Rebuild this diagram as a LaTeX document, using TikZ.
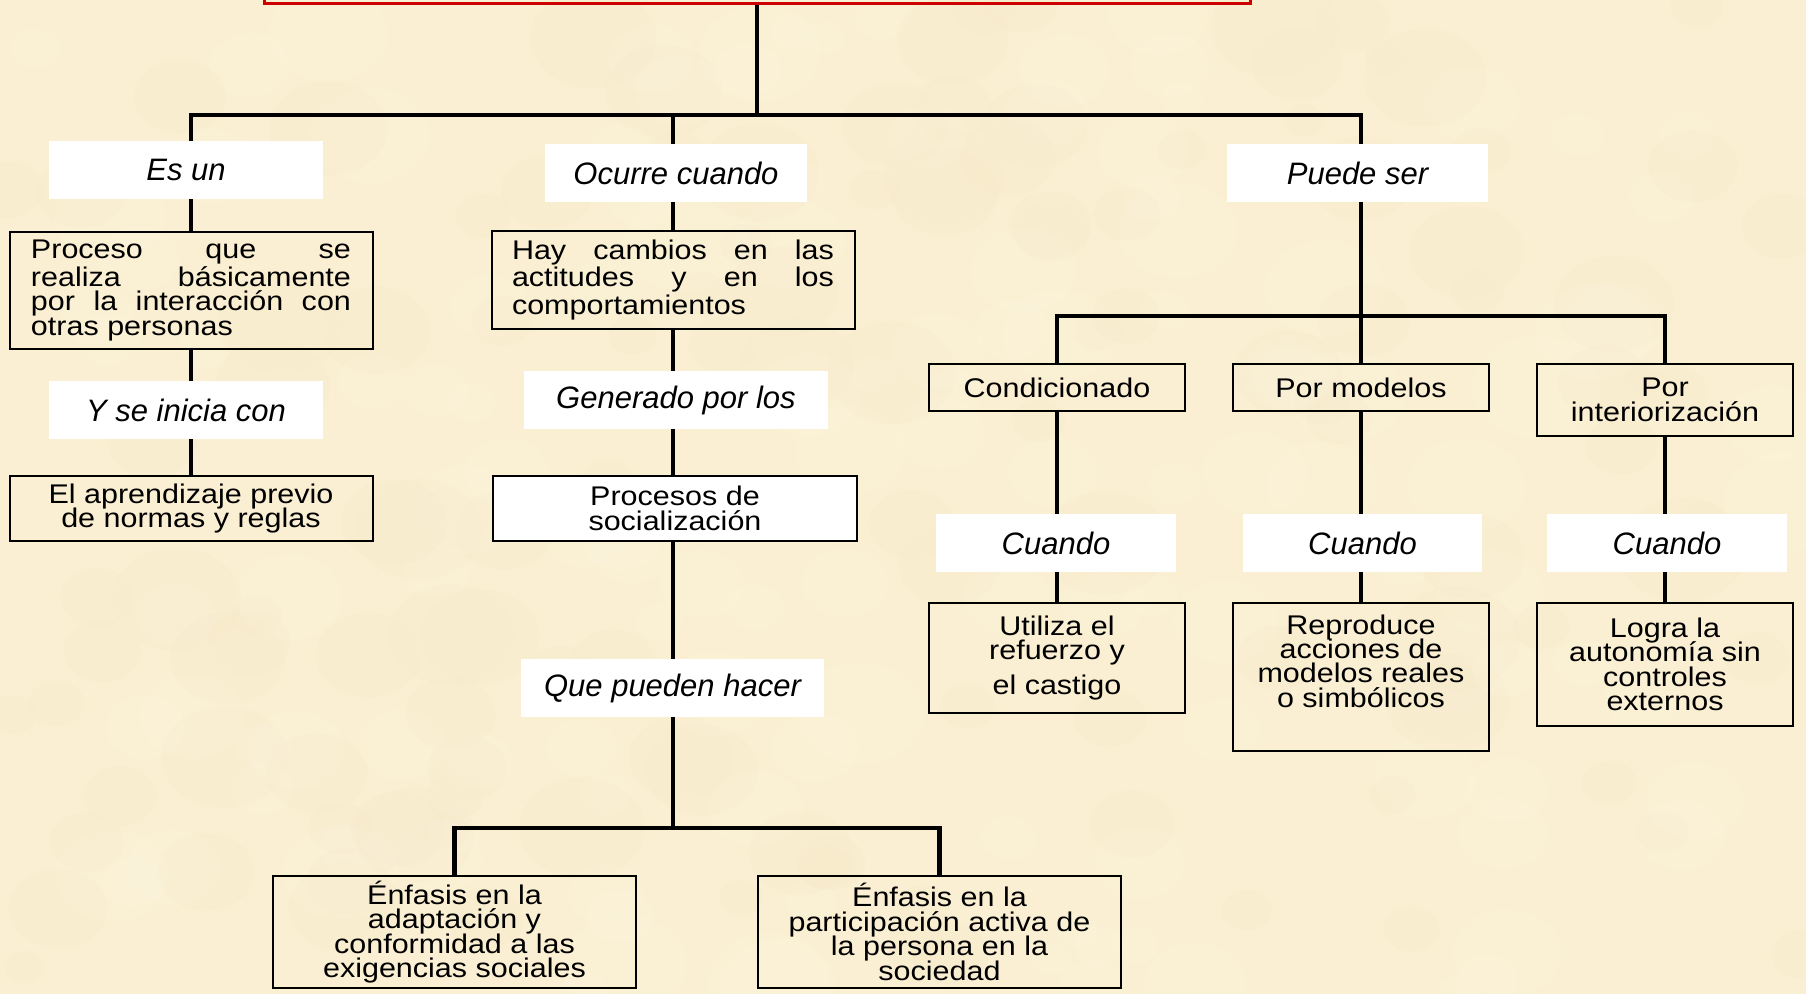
\documentclass[tikz,border=0pt]{standalone}
\usepackage{fontspec}
\setmainfont{Liberation Sans}
\newfontfamily\boxfont{Liberation Sans}[FakeStretch=1.13]
\usetikzlibrary{backgrounds}
\definecolor{bgc}{RGB}{250,239,210}
\definecolor{bglight}{RGB}{255,248,228}
\definecolor{bgdark}{RGB}{236,218,176}
\definecolor{titred}{RGB}{204,0,0}
\setlength{\lineskiplimit}{-100pt}
\begin{document}
\begin{tikzpicture}[x=0.5pt,y=-0.5pt,
  bx/.style={draw=black, line width=1pt, inner sep=0pt, outer sep=0pt,
    font=\boxfont\fontsize{13.5}{12.2}\selectfont, align=center},
  btxt/.style={inner sep=0pt, font=\boxfont\fontsize{13.5}{12.2}\selectfont, align=center},
  lbl/.style={fill=white, inner sep=0pt, outer sep=0pt,
    font=\fontsize{15.5}{18}\selectfont\itshape},
  conn/.style={line width=2.4pt, draw=black, line join=miter}]
\useasboundingbox (0,0) rectangle (1806,994);

% title box (cut off at top)
\node[draw=titred, line width=1.5pt, minimum width=493pt, minimum height=17pt, inner sep=0pt, outer sep=0pt] (title) at (757,-13) {};

% left column
\node[lbl, minimum width=137pt, minimum height=29pt] (esun) at (186,170) {Es un};
\node[bx, minimum width=181.5pt, minimum height=58.5pt, text width=160pt, align=justify] (proc) at (191,290.5)
  {\parindent0pt Proceso que se\linebreak realiza básicamente\linebreak por la interacción con\linebreak otras personas};
\node[lbl, minimum width=137pt, minimum height=29pt] (yse) at (186,410) {Y se inicia con};
\node[bx, minimum width=181.5pt, minimum height=32.5pt] (aprend) at (191,508.5)
  {El aprendizaje previo\\de normas y reglas};

% middle column
\node[lbl, minimum width=131pt, minimum height=29pt] (ocurre) at (676,173) {Ocurre cuando};
\node[bx, minimum width=181.5pt, minimum height=49pt, text width=161pt, align=justify] (hay) at (673,280)
  {\parindent0pt Hay cambios en las\linebreak actitudes y en los\linebreak comportamientos};
\node[lbl, minimum width=152pt, minimum height=29pt] (gen) at (676,400) {Generado por los};
\node[bx, fill=white, minimum width=182pt, minimum height=32.5pt] (procs) at (675,508.5)
  {Procesos de\\socialización};
\node[lbl, minimum width=151.5pt, minimum height=29pt] (que) at (672.5,688) {Que pueden hacer};
\node[bx, minimum width=181.5pt, minimum height=56pt] (enf1) at (454.5,932)
  {Énfasis en la\\adaptación y\\conformidad a las\\exigencias sociales};
\node[bx, minimum width=181.5pt, minimum height=56pt] (enf2) at (939.5,932)
  {Énfasis en la\\participación activa de\\la persona en la\\sociedad};

% right column
\node[lbl, minimum width=130.5pt, minimum height=29pt] (puede) at (1357.5,173) {Puede ser};
\node[bx, minimum width=128pt, minimum height=23.5pt] (cond) at (1057,387.5) {Condicionado};
\node[bx, minimum width=128pt, minimum height=23.5pt] (mod) at (1361,387.5) {Por modelos};
\node[bx, minimum width=128pt, minimum height=36pt] (inter) at (1665,400) {Por\\interiorización};
\node[lbl, minimum width=120pt, minimum height=29pt] (c1) at (1056,543) {Cuando};
\node[lbl, minimum width=119.5pt, minimum height=29pt] (c2) at (1362.5,543) {Cuando};
\node[lbl, minimum width=120pt, minimum height=29pt] (c3) at (1667,543) {Cuando};
\node[bx, minimum width=128pt, minimum height=55pt] (util) at (1057,658)
  {Utiliza el\\refuerzo y\\[5pt]el castigo};
\node[bx, minimum width=128pt, minimum height=74pt] (repr) at (1361,677) {};
\node[btxt] (reprtxt) at (1361,661) {Reproduce\\acciones de\\modelos reales\\o simbólicos};
\node[bx, minimum width=128pt, minimum height=61.5pt] (logra) at (1665,664.5)
  {Logra la\\autonomía sin\\controles\\externos};

\coordinate (j1) at (757,115);
\coordinate (j2) at (1361,316);
\coordinate (j3) at (673,828);

\begin{pgfonlayer}{background}
  \fill[bgc] (0,0) rectangle (1806,994);
  \pgfmathsetseed{7}
  \foreach \i in {1,...,260} {
    \pgfmathsetmacro{\bx}{rnd*1806}
    \pgfmathsetmacro{\by}{rnd*994}
    \pgfmathsetmacro{\br}{20+rnd*45}
    \pgfmathsetmacro{\bs}{rnd}
    \ifdim\bs pt<0.5pt
      \fill[bglight, opacity=0.15] (\bx,\by) ellipse ({\br*0.5pt} and {\br*0.4pt});
    \else
      \fill[bgdark, opacity=0.05] (\bx,\by) ellipse ({\br*0.5pt} and {\br*0.4pt});
    \fi
  }
  \draw[conn] (title.south) -- (j1);
  \draw[conn] (j1) -| (proc.north);
  \draw[conn] (j1) -| (j2);
  \draw[conn] (hay.north) -- (hay.north |- j1);
  \draw[conn] (proc.south) -- (aprend.north);
  \draw[conn] (hay.south) -- (hay.south |- procs.north);
  \draw[conn] (hay.south |- procs.south) -- (j3);
  \draw[conn] (enf1.north) |- (j3) -| (enf2.north);
  \draw[conn] (cond.north) |- (j2) -| (inter.north);
  \draw[conn] (j2) -- (mod.north);
  \draw[conn] (cond.south) -- (util.north);
  \draw[conn] (mod.south) -- (repr.north);
  \draw[conn] (inter.south) -- (logra.north);
\end{pgfonlayer}
\end{tikzpicture}
\end{document}
